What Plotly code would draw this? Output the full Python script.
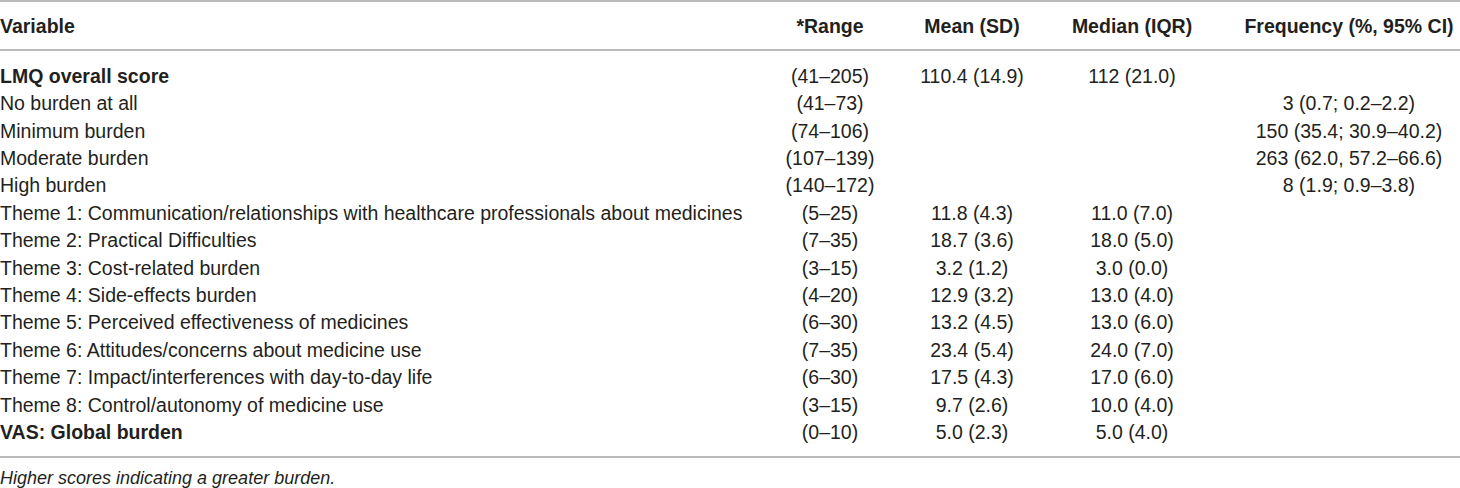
import plotly.graph_objects as go

# table content
headers = ["Variable", "*Range", "Mean (SD)", "Median (IQR)", "Frequency (%, 95% CI)"]

variables = [
    "LMQ overall score",
    "No burden at all",
    "Minimum burden",
    "Moderate burden",
    "High burden",
    "Theme 1: Communication/relationships with healthcare professionals about medicines",
    "Theme 2: Practical Difficulties",
    "Theme 3: Cost-related burden",
    "Theme 4: Side-effects burden",
    "Theme 5: Perceived effectiveness of medicines",
    "Theme 6: Attitudes/concerns about medicine use",
    "Theme 7: Impact/interferences with day-to-day life",
    "Theme 8: Control/autonomy of medicine use",
    "VAS: Global burden",
]
bold_rows = [True, False, False, False, False, False, False,
             False, False, False, False, False, False, True]
ranges = ["(41–205)", "(41–73)", "(74–106)", "(107–139)", "(140–172)",
          "(5–25)", "(7–35)", "(3–15)", "(4–20)", "(6–30)", "(7–35)",
          "(6–30)", "(3–15)", "(0–10)"]
means = ["110.4 (14.9)", "", "", "", "", "11.8 (4.3)", "18.7 (3.6)",
         "3.2 (1.2)", "12.9 (3.2)", "13.2 (4.5)", "23.4 (5.4)",
         "17.5 (4.3)", "9.7 (2.6)", "5.0 (2.3)"]
medians = ["112 (21.0)", "", "", "", "", "11.0 (7.0)", "18.0 (5.0)",
           "3.0 (0.0)", "13.0 (4.0)", "13.0 (6.0)", "24.0 (7.0)",
           "17.0 (6.0)", "10.0 (4.0)", "5.0 (4.0)"]
freqs = ["", "3 (0.7; 0.2–2.2)", "150 (35.4; 30.9–40.2)",
         "263 (62.0, 57.2–66.6)", "8 (1.9; 0.9–3.8)",
         "", "", "", "", "", "", "", "", ""]
footnote = "Higher scores indicating a greater burden."

# layout (pixel coordinates)
W, H = 1460, 488
col_x = [0, 830, 972, 1132, 1349]
header_y = 28
row_y0, row_step = 78, 27.4
rule_y = [1, 50, 457]
foot_y = 479

FONT = "Liberation Sans, Arial, Helvetica, sans-serif"
TXT = "#231f20"
SIZE = 19.5

row_y = [row_y0 + i * row_step for i in range(len(variables))]

fig = go.Figure()

# horizontal rules
for ry in rule_y:
    fig.add_trace(go.Scatter(x=[0, W], y=[ry, ry], mode="lines",
                             line=dict(color="#a3a3a3", width=1.6),
                             hoverinfo="skip", showlegend=False))

# header row
fig.add_trace(go.Scatter(
    x=[col_x[0]], y=[header_y], mode="text", text=["<b>" + headers[0] + "</b>"],
    textposition="middle right", textfont=dict(family=FONT, size=SIZE, color=TXT),
    hoverinfo="skip", showlegend=False))
fig.add_trace(go.Scatter(
    x=col_x[1:], y=[header_y] * 4, mode="text",
    text=["<b>" + h + "</b>" for h in headers[1:]],
    textposition="middle center", textfont=dict(family=FONT, size=SIZE, color=TXT),
    hoverinfo="skip", showlegend=False))

# first column
var_text = ["<b>" + v + "</b>" if b else v for v, b in zip(variables, bold_rows)]
fig.add_trace(go.Scatter(
    x=[col_x[0]] * len(variables), y=row_y, mode="text", text=var_text,
    textposition="middle right", textfont=dict(family=FONT, size=SIZE, color=TXT),
    hoverinfo="skip", showlegend=False))

# value columns
for cx, col in zip(col_x[1:], [ranges, means, medians, freqs]):
    fig.add_trace(go.Scatter(
        x=[cx] * len(col), y=row_y, mode="text", text=col,
        textposition="middle center", textfont=dict(family=FONT, size=SIZE, color=TXT),
        hoverinfo="skip", showlegend=False))

# footnote
fig.add_trace(go.Scatter(
    x=[col_x[0]], y=[foot_y], mode="text", text=["<i>" + footnote + "</i>"],
    textposition="middle right", textfont=dict(family=FONT, size=18, color=TXT),
    hoverinfo="skip", showlegend=False))

fig.update_layout(
    width=W, height=H,
    margin=dict(l=0, r=0, t=0, b=0),
    paper_bgcolor="white", plot_bgcolor="white",
    xaxis=dict(range=[0, W], visible=False, fixedrange=True),
    yaxis=dict(range=[H, 0], visible=False, fixedrange=True),
)

# drop the browser's default body margin so the figure sits at the page corner
fig.write_html("out.html", config={"displayModeBar": False},
               post_script="document.body.style.margin='0';")
